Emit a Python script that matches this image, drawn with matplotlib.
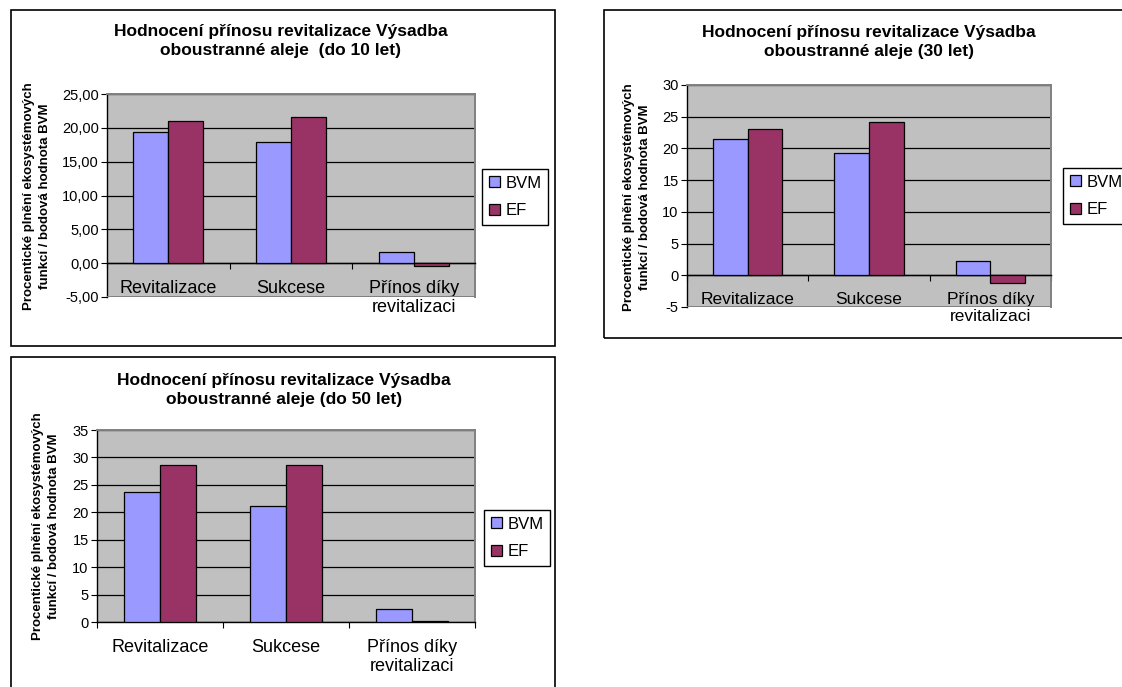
import numpy as np
import matplotlib

matplotlib.use("Agg")
import matplotlib.pyplot as plt
from matplotlib.patches import Rectangle
from matplotlib.ticker import FuncFormatter, MultipleLocator

plt.rcParams["font.family"] = ["Liberation Sans", "DejaVu Sans"]

W, H = 1122, 687

categories = ["Revitalizace", "Sukcese", "Přínos díky\nrevitalizaci"]
series_names = ["BVM", "EF"]

bvm_10 = [19.38, 17.85, 1.68]
ef_10 = [21.05, 21.55, -0.35]
bvm_30 = [21.54, 19.28, 2.21]
ef_30 = [23.02, 24.22, -1.26]
bvm_50 = [23.66, 21.17, 2.42]
ef_50 = [28.63, 28.63, 0.24]

titles = [
    "Hodnocení přínosu revitalizace Výsadba\noboustranné aleje  (do 10 let)",
    "Hodnocení přínosu revitalizace Výsadba\noboustranné aleje (30 let)",
    "Hodnocení přínosu revitalizace Výsadba\noboustranné aleje (do 50 let)",
]
ylabel = "Procentické plnění ekosystémových\nfunkcí / bodová hodnota BVM"

BVM_COLOR = "#9999FF"
EF_COLOR = "#993366"
PLOT_BG = "#C0C0C0"
BORDER = "#808080"


def fig_box(l, t, r, b):
    # pixel box (top-left origin) -> figure fraction rect
    return [l / W, 1 - b / H, (r - l) / W, (b - t) / H]


def draw_panel(fig, frame, plot, title_xy, ylabel_xy, legend_xy,
               title, bvm, ef, ylim, decimals, cat_size):
    fig.add_artist(Rectangle(fig_box(*frame)[:2], *fig_box(*frame)[2:],
                             transform=fig.transFigure, fill=False,
                             ec="black", lw=1.2))

    ax = fig.add_axes(fig_box(*plot))
    x = np.arange(len(categories))
    w = 0.2857
    ax.bar(x - w / 2, bvm, w, color=BVM_COLOR, edgecolor="black",
           lw=0.9, label=series_names[0], zorder=3)
    ax.bar(x + w / 2, ef, w, color=EF_COLOR, edgecolor="black",
           lw=0.9, label=series_names[1], zorder=3)

    ax.set_xlim(-0.5, 2.5)
    ax.set_ylim(*ylim)
    ax.set_facecolor(PLOT_BG)
    ax.yaxis.set_major_locator(MultipleLocator(5))
    ax.yaxis.grid(True, color="black", lw=0.9)
    ax.set_axisbelow(True)

    for side in ("top", "right"):
        ax.spines[side].set_color(BORDER)
        ax.spines[side].set_linewidth(1.4)
    ax.spines["left"].set_color("black")
    ax.spines["left"].set_linewidth(1.0)
    ax.spines["bottom"].set_position(("data", 0))
    ax.spines["bottom"].set_color("black")
    ax.spines["bottom"].set_linewidth(1.0)
    if ylim[0] < 0:
        ax.axhline(ylim[0], color=BORDER, lw=1.4, zorder=4)

    # category separators as major ticks, names on minor ticks
    ax.set_xticks([-0.5, 0.5, 1.5, 2.5])
    ax.set_xticklabels([])
    ax.set_xticks(x, minor=True)
    ax.set_xticklabels(categories, minor=True, fontsize=cat_size,
                       linespacing=1.2)
    ax.tick_params(axis="x", which="major", direction="out", length=4,
                   color="black")
    ax.tick_params(axis="x", which="minor", length=0, pad=12)
    ax.tick_params(axis="y", direction="out", length=4, labelsize=10.5,
                   pad=2)
    ax.yaxis.set_major_formatter(
        FuncFormatter(lambda v, _: f"{v:.{decimals}f}".replace(".", ",")))

    fig.text(title_xy[0] / W, 1 - title_xy[1] / H, title, ha="center",
             va="center", fontsize=12.5, fontweight="bold", linespacing=1.35)
    fig.text(ylabel_xy[0] / W, 1 - ylabel_xy[1] / H, ylabel, rotation=90,
             ha="center", va="center", multialignment="center",
             fontsize=9.5, fontweight="bold", linespacing=1.45)

    leg = ax.legend(loc="upper left",
                    bbox_to_anchor=(legend_xy[0] / W, 1 - legend_xy[1] / H),
                    bbox_transform=fig.transFigure, fancybox=False,
                    edgecolor="black", framealpha=1, fontsize=12,
                    handlelength=0.65, handleheight=0.65, handletextpad=0.35,
                    borderpad=0.4, labelspacing=0.75, borderaxespad=0)
    leg.get_frame().set_linewidth(1.0)
    return ax


fig = plt.figure(figsize=(W / 100, H / 100), dpi=100)

draw_panel(fig, (11, 10, 555, 346), (107, 94, 475, 297), (281, 41),
           (37, 196), (482, 169), titles[0], bvm_10, ef_10, (-5, 25), 2, 13)
draw_panel(fig, (604, 10, 1130, 338), (687, 85, 1051, 307), (869, 42),
           (637, 197), (1063, 168), titles[1], bvm_30, ef_30, (-5, 30), 0, 12.5)
draw_panel(fig, (11, 357, 555, 700), (97, 430, 475, 622), (284, 390),
           (46, 526), (484, 510), titles[2], bvm_50, ef_50, (0, 35), 0, 13)

fig.savefig("out.png", dpi=100)
